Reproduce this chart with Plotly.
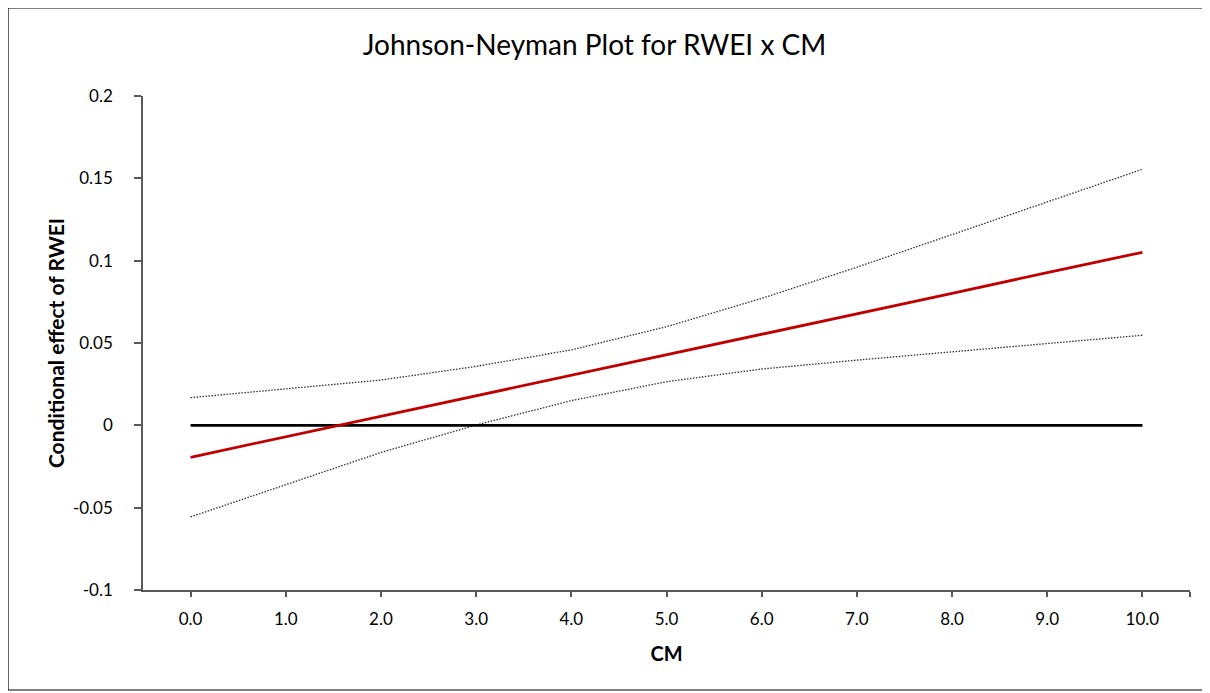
import plotly.graph_objects as go

cm_values = [0.0, 1.0, 2.0, 3.0, 4.0, 5.0, 6.0, 7.0, 8.0, 9.0, 10.0]
effect = [-0.0194, -0.0070, 0.0055, 0.0180, 0.0304, 0.0429, 0.0553, 0.0678, 0.0802, 0.0927, 0.1051]
upper_ci = [0.0168, 0.0220, 0.0275, 0.0358, 0.0458, 0.0599, 0.0771, 0.0960, 0.1158, 0.1355, 0.1555]
lower_ci = [-0.0556, -0.0360, -0.0165, 0.0002, 0.0150, 0.0265, 0.0342, 0.0396, 0.0446, 0.0499, 0.0547]
zero_line = [0.0] * len(cm_values)

x_tick_vals = [0, 1, 2, 3, 4, 5, 6, 7, 8, 9, 10, 10.5]
x_tick_text = ["0.0", "1.0", "2.0", "3.0", "4.0", "5.0", "6.0", "7.0", "8.0", "9.0", "10.0", ""]
y_tick_vals = [-0.1, -0.05, 0, 0.05, 0.1, 0.15, 0.2]
y_tick_text = ["-0.1", "-0.05", "0", "0.05", "0.1", "0.15", "0.2"]

FONT = "Lato"
L, R, T, B = 135, 28, 88, 111
PW = 1210 - L - R
PH = 693 - T - B

fig = go.Figure()
fig.add_trace(go.Scatter(x=cm_values, y=upper_ci, mode="lines",
                         line=dict(color="#303030", width=1.3, dash="1.5px,1.5px"), showlegend=False))
fig.add_trace(go.Scatter(x=cm_values, y=lower_ci, mode="lines",
                         line=dict(color="#303030", width=1.3, dash="1.5px,1.5px"), showlegend=False))
fig.add_trace(go.Scatter(x=cm_values, y=zero_line, mode="lines",
                         line=dict(color="#000000", width=2.8), showlegend=False))
fig.add_trace(go.Scatter(x=cm_values, y=effect, mode="lines",
                         line=dict(color="#C00000", width=2.8), showlegend=False))

fig.update_layout(
    width=1210, height=693,
    margin=dict(l=L, r=R, t=T, b=B),
    paper_bgcolor="white", plot_bgcolor="white",
    font=dict(family=FONT, color="#000000"),
    title=dict(text="Johnson-Neyman Plot for RWEI x CM", x=586.5 / 1210, xanchor="center",
               y=1 - 37 / 693, yanchor="middle", font=dict(family=FONT, size=28, color="#000000")),
    shapes=[dict(type="rect", xref="paper", yref="paper",
                 x0=-L / PW, x1=(1200 - L) / PW, y0=-(682 - (693 - B)) / PH, y1=1 + T / PH,
                 line=dict(color="#000000", width=1.2), fillcolor="rgba(0,0,0,0)")],
)
fig.update_xaxes(range=[-0.5, 10.5], tickmode="array", tickvals=x_tick_vals, ticktext=x_tick_text,
                 showline=True, linecolor="#595959", linewidth=1.5, ticks="outside", ticklen=5,
                 tickcolor="#595959", tickwidth=1.5, showgrid=False, zeroline=False,
                 tickfont=dict(family=FONT, size=17, color="#000000"), ticklabelstandoff=8,
                 title=dict(text="<b>CM</b>", font=dict(family=FONT, size=20, color="#000000"), standoff=19))
fig.update_yaxes(range=[-0.1, 0.2], tickmode="array", tickvals=y_tick_vals, ticktext=y_tick_text,
                 showline=True, linecolor="#595959", linewidth=1.5, ticks="outside", ticklen=7,
                 tickcolor="#595959", tickwidth=1.5, showgrid=False, zeroline=False,
                 tickfont=dict(family=FONT, size=17, color="#000000"), ticklabelstandoff=18,
                 title=dict(text="<b>Conditional effect of RWEI</b>",
                            font=dict(family=FONT, size=21, color="#000000"), standoff=3))

fig.write_html("out.html")
